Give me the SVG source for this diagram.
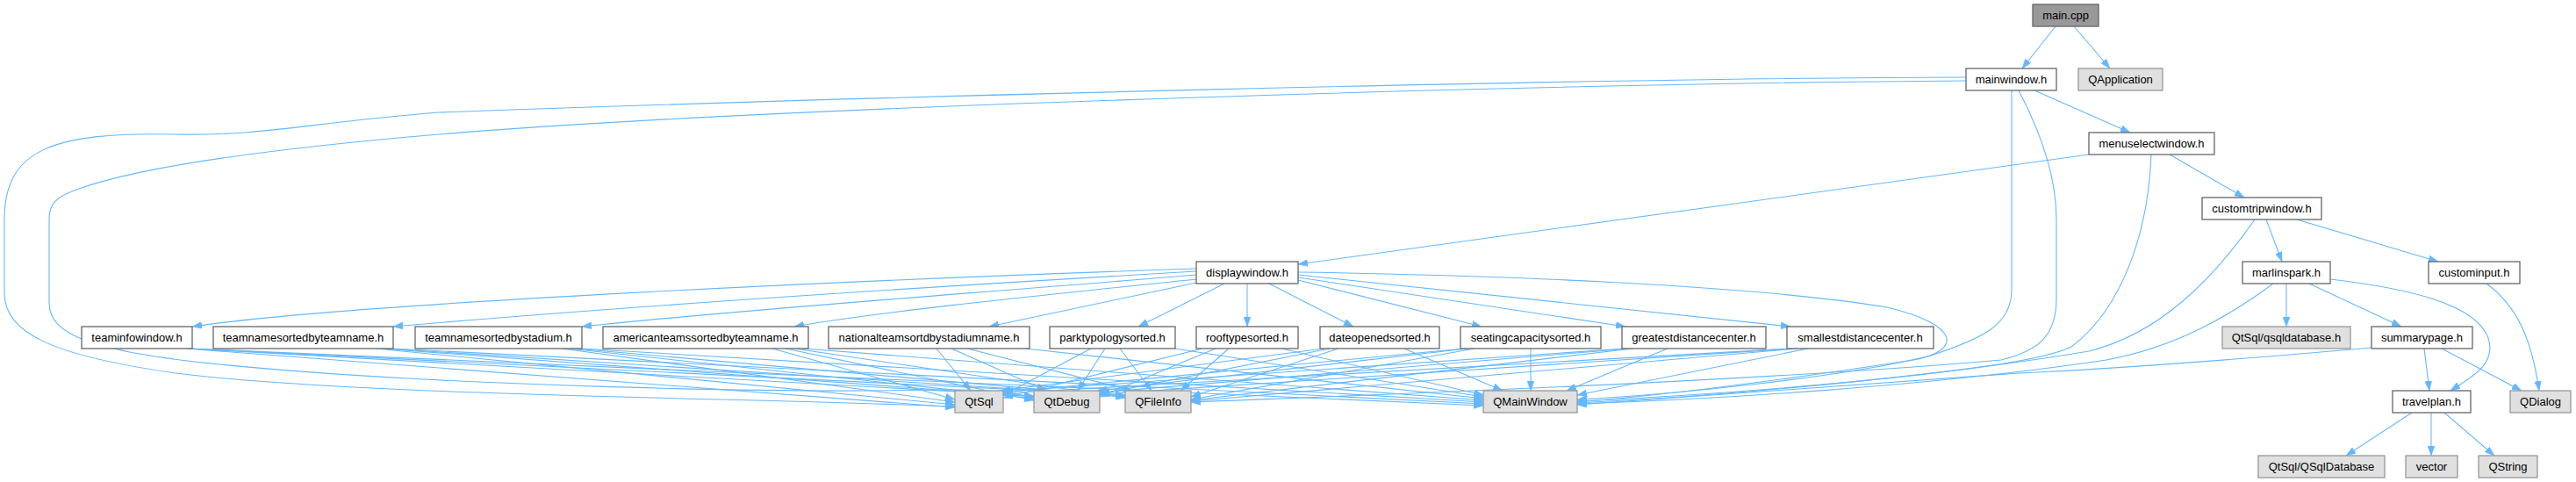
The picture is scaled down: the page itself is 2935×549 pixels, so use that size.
<svg xmlns="http://www.w3.org/2000/svg" width="2935" height="549" viewBox="0 0 2935 549">
<style>
.e{fill:none;stroke:#63b8ff;stroke-width:1.1;marker-end:url(#a)}
.n rect{fill:#ffffff;stroke:#666666;stroke-width:1.3}
.x rect{fill:#e0e0e0;stroke:#999999;stroke-width:1.3}
.r rect{fill:#999999;stroke:#666666;stroke-width:1.3}
text{font-family:"Liberation Sans",Arial,sans-serif;font-size:13px;text-anchor:middle;fill:#000000}
</style>
<defs>
<marker id="a" markerWidth="11" markerHeight="8" refX="11" refY="4" orient="auto" markerUnits="userSpaceOnUse">
<path d="M0,0 L11,4 L0,8 z" fill="#63b8ff" stroke="#63b8ff" stroke-width="0.5"/>
</marker>
</defs>
<rect width="2935" height="549" fill="#ffffff"/>
<g id="connectors">
<path class="e" d="M2342,30 L2304,78"/>
<path class="e" d="M2363,30 L2404,78"/>
<path class="e" d="M2318,103 L2427,151"/>
<path class="e" d="M2240,88 C1800,89 1000,110 500,128 C350,140 300,155 200,153 C60,150 5,170 5,250 L5,333 C5,380 60,405 200,425 C400,450 800,452 1088,463"/>
<path class="e" d="M2240,92 C1800,95 900,120 500,153 C300,170 160,190 90,215 C60,225 56,235 56,250 L56,345 C56,380 100,400 250,415 C500,440 900,448 1060,444 C1120,443 1150,446 1178,453"/>
<path class="e" d="M2292,103 L2292,330 C2292,370 2260,385 2200,405 C2100,430 1900,450 1797,455"/>
<path class="e" d="M2300,103 C2330,160 2343,210 2343,250 L2343,340 C2343,385 2320,400 2280,410 C2000,435 1500,452 1357,458"/>
<path class="e" d="M2472,176 L2557,225"/>
<path class="e" d="M2380,176 L1479,301"/>
<path class="e" d="M2451,176 C2448,260 2420,350 2360,395 C2300,425 1950,450 1797,457"/>
<path class="e" d="M2569,250 C2520,320 2460,380 2380,400 C2200,430 1950,452 1797,459"/>
<path class="e" d="M2582,250 L2600,298"/>
<path class="e" d="M2617,250 L2778,298"/>
<path class="e" d="M2590,323 C2540,360 2480,395 2400,410 C2200,440 1950,455 1797,460"/>
<path class="e" d="M2605,323 L2605,372"/>
<path class="e" d="M2631,323 L2736,372"/>
<path class="e" d="M2655,318 C2740,328 2820,345 2835,385 C2845,415 2815,430 2792,445"/>
<path class="e" d="M2833,323 C2870,350 2885,390 2893,445"/>
<path class="e" d="M2702,396 C2600,405 2450,418 2300,425 C2100,440 1900,455 1797,461"/>
<path class="e" d="M2762,397 L2768,445"/>
<path class="e" d="M2782,397 L2873,445"/>
<path class="e" d="M2748,470 L2673,519"/>
<path class="e" d="M2770,470 L2770,519"/>
<path class="e" d="M2785,470 L2842,519"/>
<path class="e" d="M1363,306 C1000,318 400,345 219,372"/>
<path class="e" d="M1363,309 C1000,330 700,350 448,372"/>
<path class="e" d="M1363,313 C1100,335 850,352 663,372"/>
<path class="e" d="M1363,318 C1200,335 1000,355 905,372"/>
<path class="e" d="M1363,322 L1127,372"/>
<path class="e" d="M1395,323 L1297,372"/>
<path class="e" d="M1421,323 L1421,372"/>
<path class="e" d="M1446,323 L1542,372"/>
<path class="e" d="M1479,319 L1688,372"/>
<path class="e" d="M1479,316 L1852,372"/>
<path class="e" d="M1479,313 L2040,372"/>
<path class="e" d="M1479,310 C1700,313 2000,325 2150,350 C2235,370 2235,400 2180,410 C2050,430 1900,450 1797,458"/>
<path class="e" d="M212,397 L1088,464"/>
<path class="e" d="M214,397 L1178,451"/>
<path class="e" d="M216,397 L1282,450"/>
<path class="e" d="M218,397 L1690,462"/>
<path class="e" d="M428,397 L1088,461"/>
<path class="e" d="M434,397 L1178,452"/>
<path class="e" d="M440,397 L1282,451"/>
<path class="e" d="M446,397 L1690,460"/>
<path class="e" d="M640,397 L1088,458"/>
<path class="e" d="M648,397 L1178,454"/>
<path class="e" d="M655,397 L1282,452"/>
<path class="e" d="M662,397 L1690,458"/>
<path class="e" d="M880,397 L1088,455"/>
<path class="e" d="M895,397 L1178,456"/>
<path class="e" d="M905,397 L1282,453"/>
<path class="e" d="M915,397 L1690,456"/>
<path class="e" d="M1067,397 L1106,445"/>
<path class="e" d="M1084,397 L1192,445"/>
<path class="e" d="M1102,397 L1290,445"/>
<path class="e" d="M1168,397 L1690,454"/>
<path class="e" d="M1243,397 L1143,450"/>
<path class="e" d="M1259,397 L1228,445"/>
<path class="e" d="M1276,397 L1312,445"/>
<path class="e" d="M1339,397 L1690,452"/>
<path class="e" d="M1370,397 L1143,453"/>
<path class="e" d="M1385,397 L1253,452"/>
<path class="e" d="M1400,397 L1345,445"/>
<path class="e" d="M1460,397 L1690,450"/>
<path class="e" d="M1508,397 L1140,445"/>
<path class="e" d="M1515,397 L1253,449"/>
<path class="e" d="M1525,397 L1357,452"/>
<path class="e" d="M1600,397 L1712,445"/>
<path class="e" d="M1668,397 L1143,447"/>
<path class="e" d="M1672,397 L1250,445"/>
<path class="e" d="M1680,397 L1357,455"/>
<path class="e" d="M1744,397 L1744,445"/>
<path class="e" d="M1852,397 L1143,446"/>
<path class="e" d="M1856,397 L1253,447"/>
<path class="e" d="M1860,397 L1357,456"/>
<path class="e" d="M1900,397 L1785,445"/>
<path class="e" d="M2040,397 L1143,448"/>
<path class="e" d="M2044,397 L1253,449"/>
<path class="e" d="M2048,397 L1357,457"/>
<path class="e" d="M2060,397 L1797,450"/>
</g>
<g id="main_cpp" class="r"><rect x="2316" y="5" width="75" height="25"/><text x="2353.5" y="22">main.cpp</text></g>
<g id="mainwindow_h" class="n"><rect x="2240" y="78" width="103" height="25"/><text x="2291.5" y="95">mainwindow.h</text></g>
<g id="QApplication" class="x"><rect x="2368" y="78" width="96" height="25"/><text x="2416" y="95">QApplication</text></g>
<g id="menuselectwindow_h" class="n"><rect x="2380" y="151" width="143" height="25"/><text x="2451.5" y="168">menuselectwindow.h</text></g>
<g id="customtripwindow_h" class="n"><rect x="2509" y="225" width="136" height="25"/><text x="2577" y="242">customtripwindow.h</text></g>
<g id="displaywindow_h" class="n"><rect x="1363" y="298" width="116" height="25"/><text x="1421" y="315">displaywindow.h</text></g>
<g id="marlinspark_h" class="n"><rect x="2555" y="298" width="100" height="25"/><text x="2605" y="315">marlinspark.h</text></g>
<g id="custominput_h" class="n"><rect x="2767" y="298" width="104" height="25"/><text x="2819" y="315">custominput.h</text></g>
<g id="teaminfowindow_h" class="n"><rect x="93" y="372" width="126" height="25"/><text x="156" y="389">teaminfowindow.h</text></g>
<g id="teamnamesortedbyteamname_h" class="n"><rect x="243" y="372" width="205" height="25"/><text x="345.5" y="389">teamnamesortedbyteamname.h</text></g>
<g id="teamnamesortedbystadium_h" class="n"><rect x="473" y="372" width="190" height="25"/><text x="568" y="389">teamnamesortedbystadium.h</text></g>
<g id="americanteamssortedbyteamname_h" class="n"><rect x="687" y="372" width="234" height="25"/><text x="804" y="389">americanteamssortedbyteamname.h</text></g>
<g id="nationalteamsortdbystadiumname_h" class="n"><rect x="944" y="372" width="229" height="25"/><text x="1058.5" y="389">nationalteamsortdbystadiumname.h</text></g>
<g id="parktypologysorted_h" class="n"><rect x="1196" y="372" width="143" height="25"/><text x="1267.5" y="389">parktypologysorted.h</text></g>
<g id="rooftypesorted_h" class="n"><rect x="1363" y="372" width="116" height="25"/><text x="1421" y="389">rooftypesorted.h</text></g>
<g id="dateopenedsorted_h" class="n"><rect x="1504" y="372" width="136" height="25"/><text x="1572" y="389">dateopenedsorted.h</text></g>
<g id="seatingcapacitysorted_h" class="n"><rect x="1664" y="372" width="160" height="25"/><text x="1744" y="389">seatingcapacitysorted.h</text></g>
<g id="greatestdistancecenter_h" class="n"><rect x="1848" y="372" width="164" height="25"/><text x="1930" y="389">greatestdistancecenter.h</text></g>
<g id="smallestdistancecenter_h" class="n"><rect x="2036" y="372" width="167" height="25"/><text x="2119.5" y="389">smallestdistancecenter.h</text></g>
<g id="QtSql_qsqldatabase_h" class="x"><rect x="2532" y="372" width="146" height="25"/><text x="2605" y="389">QtSql/qsqldatabase.h</text></g>
<g id="summarypage_h" class="n"><rect x="2702" y="372" width="115" height="25"/><text x="2759.5" y="389">summarypage.h</text></g>
<g id="QtSql" class="x"><rect x="1088" y="445" width="55" height="25"/><text x="1115.5" y="462">QtSql</text></g>
<g id="QtDebug" class="x"><rect x="1178" y="445" width="75" height="25"/><text x="1215.5" y="462">QtDebug</text></g>
<g id="QFileInfo" class="x"><rect x="1282" y="445" width="75" height="25"/><text x="1319.5" y="462">QFileInfo</text></g>
<g id="QMainWindow" class="x"><rect x="1690" y="445" width="107" height="25"/><text x="1743.5" y="462">QMainWindow</text></g>
<g id="travelplan_h" class="n"><rect x="2726" y="445" width="89" height="25"/><text x="2770.5" y="462">travelplan.h</text></g>
<g id="QDialog" class="x"><rect x="2860" y="445" width="69" height="25"/><text x="2894.5" y="462">QDialog</text></g>
<g id="QtSql_QSqlDatabase" class="x"><rect x="2573" y="519" width="144" height="25"/><text x="2645" y="536">QtSql/QSqlDatabase</text></g>
<g id="vector" class="x"><rect x="2741" y="519" width="59" height="25"/><text x="2770.5" y="536">vector</text></g>
<g id="QString" class="x"><rect x="2824" y="519" width="67" height="25"/><text x="2857.5" y="536">QString</text></g>
</svg>
